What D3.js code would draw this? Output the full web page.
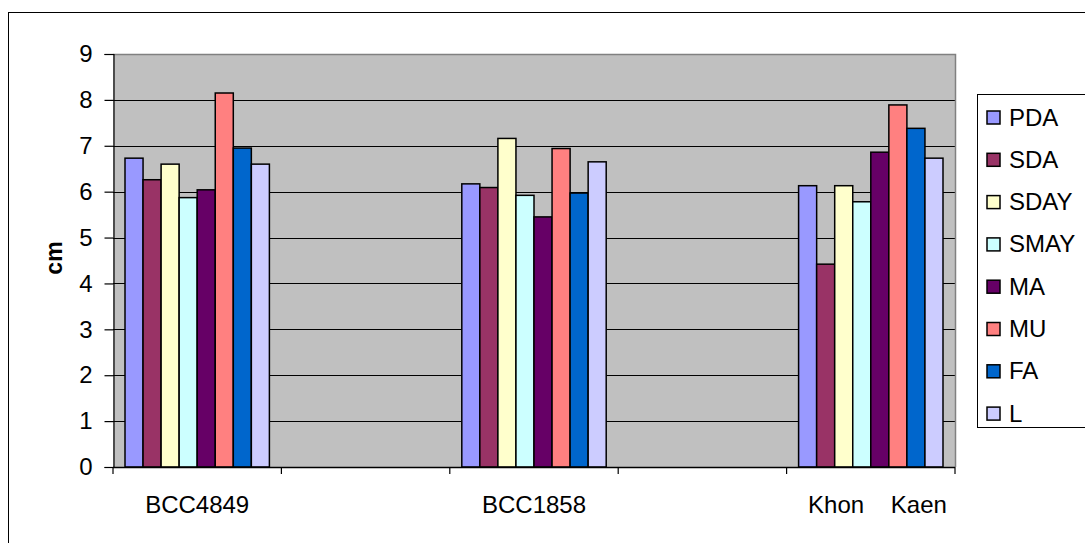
<!DOCTYPE html>
<html>
<head>
<meta charset="utf-8">
<script src="https://cdn.jsdelivr.net/npm/d3@7"></script>
<style>
  body { margin: 0; background: #fff; }
  text { font-family: "Liberation Sans", Arial, sans-serif; }
</style>
</head>
<body>
<div id="chart"></div>
<script>
// categories (the 2nd and 4th slots are empty in the original chart)
var categories = ["BCC4849", "", "BCC1858", "", "  Khon    Kaen"];
var series = ["PDA", "SDA", "SDAY", "SMAY", "MA", "MU", "FA", "L"];
var colours = ["#9999ff", "#993366", "#ffffcc", "#ccffff", "#660066", "#ff8080", "#0066cc", "#ccccff"];

// values in cm, one array per category (null = empty slot)
var bcc4849 = [6.73, 6.26, 6.60, 5.87, 6.04, 8.15, 6.95, 6.60];
var bcc1858 = [6.17, 6.09, 7.16, 5.92, 5.45, 6.94, 5.97, 6.65];
var khonKaen = [6.13, 4.42, 6.13, 5.78, 6.86, 7.89, 7.38, 6.73];
var values = [bcc4849, null, bcc1858, null, khonKaen];

var yTicks = [0, 1, 2, 3, 4, 5, 6, 7, 8, 9];

// plot area
var margin = {left: 113, top: 54, right: 955, bottom: 467};

var svg = d3.select("#chart")
    .append("svg")
    .attr("width", 1085)
    .attr("height", 543);

// outer chart border
svg.append("rect")
    .attr("x", 8.5).attr("y", 12.5)
    .attr("width", 1090).attr("height", 540)
    .attr("fill", "none")
    .attr("stroke", "#000")
    .attr("stroke-width", 1);

// scales
var x0 = d3.scaleBand()
    .domain(d3.range(categories.length))
    .range([margin.left, margin.right]);

var x1 = d3.scaleBand()
    .domain(series)
    .range([12, x0.bandwidth() - 12]);

var y = d3.scaleLinear()
    .domain([0, 9])
    .range([margin.bottom, margin.top]);

// plot background
svg.append("rect")
    .attr("x", margin.left).attr("y", margin.top)
    .attr("width", margin.right - margin.left)
    .attr("height", margin.bottom - margin.top)
    .attr("fill", "#c0c0c0");

// grid lines
svg.append("g").selectAll("line")
    .data(yTicks.filter(function (d) { return d > 0 && d < 9; }))
    .enter()
    .append("line")
    .attr("x1", margin.left).attr("x2", margin.right)
    .attr("y1", function (d) { return Math.round(y(d)) + 0.5; })
    .attr("y2", function (d) { return Math.round(y(d)) + 0.5; })
    .attr("stroke", "#000")
    .attr("stroke-width", 1);

// plot area border (top and right, grey)
svg.append("path")
    .attr("d", "M" + margin.left + "," + (margin.top + 0.5) + "H" + (margin.right + 0.5) + "V" + margin.bottom)
    .attr("fill", "none")
    .attr("stroke", "#808080")
    .attr("stroke-width", 1.5);

// bars
var groups = svg.append("g").selectAll("g")
    .data(values.map(function (v, i) { return {i: i, v: v}; }).filter(function (d) { return d.v; }))
    .enter()
    .append("g")
    .attr("transform", function (d) { return "translate(" + x0(d.i) + ",0)"; });

groups.selectAll("rect")
    .data(function (d) { return d.v.map(function (val, k) { return {s: series[k], v: val, c: colours[k]}; }); })
    .enter()
    .append("rect")
    .attr("x", function (d) { return x1(d.s); })
    .attr("y", function (d) { return y(d.v); })
    .attr("width", x1.bandwidth())
    .attr("height", function (d) { return y(0) - y(d.v); })
    .attr("fill", function (d) { return d.c; })
    .attr("stroke", "#000")
    .attr("stroke-width", 1.5);

// y axis
var yAxis = svg.append("g")
    .attr("transform", "translate(" + (margin.left + 0.5) + ",0)")
    .call(d3.axisLeft(y).tickValues(yTicks).tickSize(9).tickPadding(12).tickFormat(d3.format("d")));
yAxis.selectAll("path, line").attr("stroke", "#000").attr("stroke-width", 1.2);
yAxis.selectAll("text")
    .attr("font-size", 24)
    .attr("font-family", "Liberation Sans, Arial, sans-serif")
    .attr("fill", "#000");

// x axis with ticks at category boundaries
var xEdges = d3.range(categories.length + 1).map(function (i) { return margin.left + i * x0.bandwidth(); });
svg.append("line")
    .attr("x1", margin.left).attr("x2", margin.right)
    .attr("y1", margin.bottom + 0.5).attr("y2", margin.bottom + 0.5)
    .attr("stroke", "#000").attr("stroke-width", 1.5);
svg.append("g").selectAll("line")
    .data(xEdges)
    .enter()
    .append("line")
    .attr("x1", function (d) { return d; }).attr("x2", function (d) { return d; })
    .attr("y1", margin.bottom).attr("y2", margin.bottom + 7)
    .attr("stroke", "#000").attr("stroke-width", 1.2);

// category labels
svg.append("g").selectAll("text")
    .data(categories)
    .enter()
    .append("text")
    .attr("x", function (d, i) { return x0(i) + x0.bandwidth() / 2; })
    .attr("y", 513)
    .attr("text-anchor", "middle")
    .attr("font-size", 24)
    .style("white-space", "pre")
    .text(function (d) { return d; });

// y axis title
svg.append("text")
    .attr("transform", "translate(62,258) rotate(-90)")
    .attr("text-anchor", "middle")
    .attr("font-size", 23)
    .attr("font-weight", "bold")
    .text("cm");

// legend
var legend = svg.append("g");
legend.append("rect")
    .attr("x", 977.5).attr("y", 94.5)
    .attr("width", 120).attr("height", 333)
    .attr("fill", "#fff")
    .attr("stroke", "#000")
    .attr("stroke-width", 1);

var items = legend.selectAll("g.item")
    .data(series)
    .enter()
    .append("g")
    .attr("transform", function (d, i) { return "translate(0," + (117 + i * 42.3) + ")"; });

items.append("rect")
    .attr("x", 987).attr("y", -6)
    .attr("width", 13).attr("height", 13)
    .attr("fill", function (d, i) { return colours[i]; })
    .attr("stroke", "#000")
    .attr("stroke-width", 1.5);

items.append("text")
    .attr("x", 1009)
    .attr("y", 8.5)
    .attr("font-size", 24)
    .text(function (d) { return d; });
</script>
</body>
</html>
